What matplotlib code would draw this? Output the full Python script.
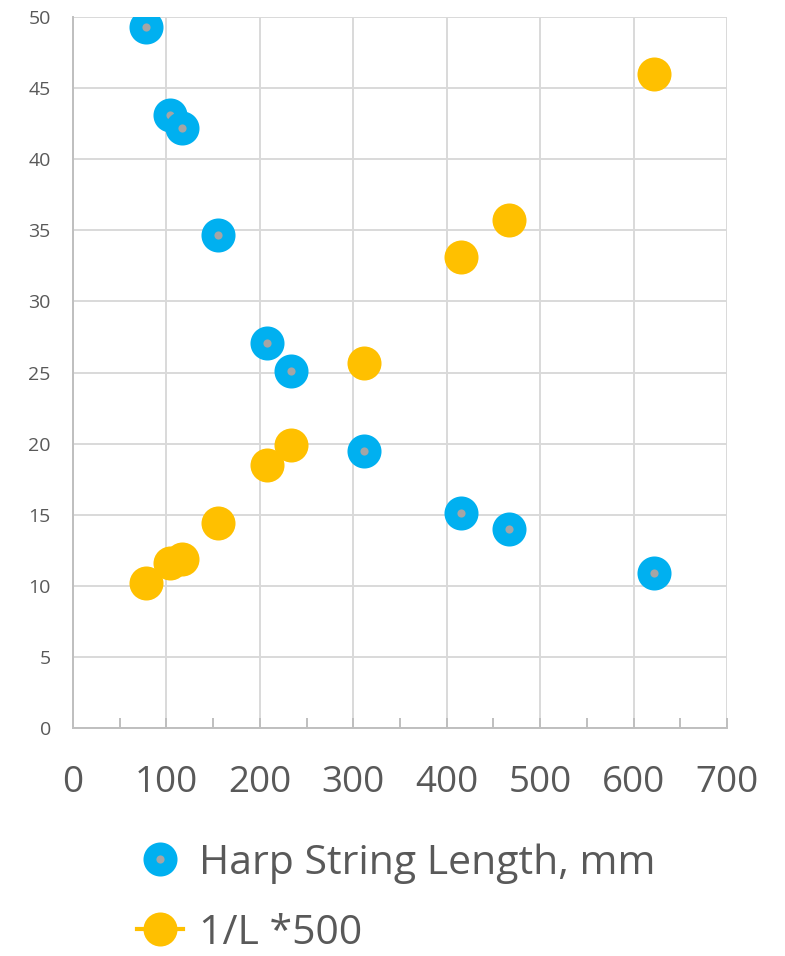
import matplotlib
matplotlib.use("Agg")
import matplotlib.pyplot as plt
from matplotlib.lines import Line2D

# note frequencies (Hz) against string length and scaled reciprocal
freq = [77.8, 103.8, 116.5, 155.6, 207.7, 233.1, 311.1, 415.3, 466.2, 622.3]
length = [49.3, 43.1, 42.2, 34.7, 27.1, 25.1, 19.5, 15.1, 14.0, 10.9]
inv_len = [10.2, 11.6, 11.9, 14.4, 18.5, 19.9, 25.7, 33.1, 35.7, 46.0]

x_ticks = [0, 100, 200, 300, 400, 500, 600, 700]
y_ticks = [0, 5, 10, 15, 20, 25, 30, 35, 40, 45, 50]

blue = "#00B0F0"
gold = "#FFC000"
dot = "#A5A5A5"
text_col = "#595959"
grid_col = "#D9D9D9"
axis_col = "#BFBFBF"

plt.rcParams["font.family"] = ["Open Sans", "DejaVu Sans"]

fig = plt.figure(figsize=(7.85, 9.56), dpi=100)
ax = fig.add_axes([73 / 785, 1 - 728 / 956, 654 / 785, 711 / 956])

ax.plot(freq, length, linestyle="none", marker="o", markersize=15.2,
        markerfacecolor=dot, markeredgecolor=blue, markeredgewidth=9.3,
        zorder=3)
ax.plot(freq, inv_len, linestyle="none", marker="o", markersize=24.5,
        markerfacecolor=gold, markeredgecolor=gold, markeredgewidth=0,
        zorder=3)

ax.set_xlim(0, 700)
ax.set_ylim(0, 50)
ax.set_xticks(x_ticks)
ax.set_yticks(y_ticks)
ax.set_xticks(range(50, 700, 100), minor=True)
ax.grid(True, color=grid_col, linewidth=1.4, zorder=0)
ax.set_axisbelow(True)

for side in ["top", "right"]:
    ax.spines[side].set_visible(False)
for side in ["left", "bottom"]:
    ax.spines[side].set_color(axis_col)
    ax.spines[side].set_linewidth(1.4)

ax.tick_params(axis="x", which="both", direction="in", length=7.5,
               width=1.4, color=axis_col, labelsize=26.5,
               labelcolor=text_col, pad=27)
ax.tick_params(axis="y", length=0, labelsize=14, labelcolor=text_col,
               pad=16)

handles = [
    Line2D([], [], linestyle="none", marker="o", markersize=15.2,
           markerfacecolor=dot, markeredgecolor=blue, markeredgewidth=9.3),
    Line2D([], [], color=gold, linewidth=3, marker="o", markersize=24.5,
           markerfacecolor=gold, markeredgewidth=0),
]
labels = ["Harp String Length, mm", "1/L *500"]
fig.legend(handles, labels, loc="upper left",
           bbox_to_anchor=(137 / 785, 1 - 843 / 956), frameon=False,
           fontsize=29.5, labelcolor=text_col, handlelength=1.12,
           handletextpad=0.4, labelspacing=0.72, borderaxespad=0,
           borderpad=0)

fig.savefig("out.png", dpi=100)
